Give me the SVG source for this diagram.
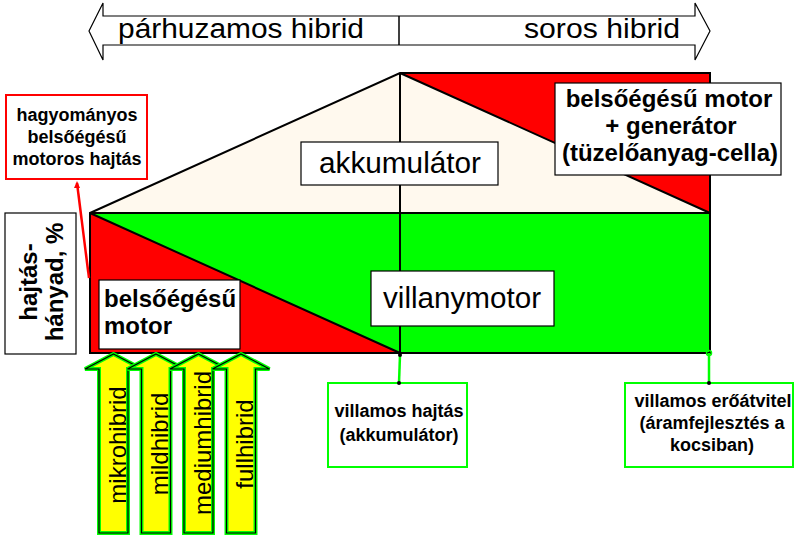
<svg xmlns="http://www.w3.org/2000/svg" width="800" height="540" viewBox="0 0 800 540">
<defs>
<style>
text{font-family:"Liberation Sans",Arial,sans-serif;fill:#000}
.b{font-weight:bold;font-size:18px}
.bb{font-weight:bold;font-size:24px}
.big{font-size:29px}
.lbl{fill:#fff;stroke:#000;stroke-width:1.2}
.edge{fill:none;stroke:#000;stroke-width:2}
.arr{fill:#ffff00;stroke:#00ff00;stroke-width:4;stroke-linejoin:miter}
.arrk{fill:none;stroke:#000;stroke-width:1.2}
.vt{font-size:24px}
</style>
<path id="up" d="M0,0 L28.5,15 L14.5,15 L14.5,179 L-14.5,179 L-14.5,15 L-28.5,15 Z"/>
</defs>
<rect width="800" height="540" fill="#fff"/>

<g id="top-arrow">
<polygon points="89,31 103,3 103,16 695,16 695,3 710,31 695,60 695,45 103,45 103,60" fill="#fff" stroke="#000" stroke-width="1.2"/>
<line x1="399" y1="16" x2="399" y2="45" stroke="#000" stroke-width="1.5"/>
<text x="118" y="38" font-size="27" textLength="246" lengthAdjust="spacingAndGlyphs">párhuzamos hibrid</text>
<text x="524" y="38" font-size="27" textLength="156" lengthAdjust="spacingAndGlyphs">soros hibrid</text>
</g>

<g id="chart">
<polygon points="90,213 400,73 710,213" fill="#fff9ee"/>
<polygon points="400,73 710,73 710,213" fill="#ff0000"/>
<rect x="90" y="213" width="620" height="140" fill="#00ff00"/>
<polygon points="90,213 400,353 90,353" fill="#ff0000"/>
<path class="edge" d="M90,213 L400,73 L710,73 L710,353 L90,353 Z M400,73 L710,213 M90,213 L710,213 M400,73 L400,353 M90,213 L400,353"/>
</g>

<g id="akkumulator">
<rect class="lbl" x="301" y="142" width="197" height="43"/>
<text class="big" x="400" y="173" text-anchor="middle" textLength="162" lengthAdjust="spacingAndGlyphs">akkumulátor</text>
</g>

<g id="villanymotor">
<rect class="lbl" x="371" y="271" width="183" height="55"/>
<text class="big" x="462" y="308" text-anchor="middle" textLength="158" lengthAdjust="spacingAndGlyphs">villanymotor</text>
</g>

<g id="belsoegesu-motor">
<rect class="lbl" x="99" y="280" width="141" height="69"/>
<text class="bb" x="104" y="307">belsőégésű</text>
<text class="bb" x="104" y="334">motor</text>
</g>

<g id="generator">
<rect class="lbl" x="555" y="83" width="226" height="92"/>
<text class="bb" x="669" y="107" text-anchor="middle">belsőégésű motor</text>
<text class="bb" x="671" y="134" text-anchor="middle">+ generátor</text>
<text class="bb" x="670" y="161" text-anchor="middle">(tüzelőanyag-cella)</text>
</g>

<g id="hagyomanyos">
<rect x="6" y="95" width="141" height="84" fill="#fff" stroke="#ff0000" stroke-width="2"/>
<text class="b" x="77" y="121" text-anchor="middle">hagyományos</text>
<text class="b" x="77" y="143" text-anchor="middle">belsőégésű</text>
<text class="b" x="77" y="165" text-anchor="middle">motoros hajtás</text>
</g>

<g id="hajtashanyad">
<rect class="lbl" x="5" y="213" width="71" height="141"/>
<text class="bb" transform="translate(37,282) rotate(-90)" text-anchor="middle">hajtás-</text>
<text class="bb" transform="translate(63,282) rotate(-90)" text-anchor="middle">hányad, %</text>
</g>

<g id="villamos-hajtas">
<rect x="328" y="383" width="139" height="84" fill="#fff" stroke="#00ff00" stroke-width="2"/>
<text class="b" x="399" y="417" text-anchor="middle">villamos hajtás</text>
<text class="b" x="399" y="441" text-anchor="middle">(akkumulátor)</text>
</g>

<g id="villamos-eroatvitel">
<rect x="625" y="383" width="168" height="84" fill="#fff" stroke="#00ff00" stroke-width="2"/>
<text class="b" x="713" y="407" text-anchor="middle">villamos erőátvitel</text>
<text class="b" x="712" y="429" text-anchor="middle">(áramfejlesztés a</text>
<text class="b" x="712" y="451" text-anchor="middle">kocsiban)</text>
</g>

<g id="connectors">
<line x1="77" y1="183" x2="89" y2="278" stroke="#ff0000" stroke-width="2.5"/>
<polygon points="77,181 74,188 80,188" fill="#ff0000"/>
<line x1="400" y1="355" x2="399" y2="383" stroke="#00ff00" stroke-width="2.5"/>
<circle cx="400" cy="355" r="2" fill="#000"/>
<circle cx="399" cy="383" r="2" fill="#000"/>
<line x1="709" y1="353" x2="709" y2="383" stroke="#00ff00" stroke-width="2.5"/>
<circle cx="709" cy="353" r="2.5" fill="none" stroke="#00ff00" stroke-width="1.5"/>
<circle cx="709" cy="383" r="2" fill="#000"/>
</g>

<g id="mikrohibrid">
<use href="#up" x="113.5" y="354" class="arr"/>
<use href="#up" x="113.5" y="354" class="arrk"/>
<text class="vt" transform="translate(126,445) rotate(-90)" text-anchor="middle">mikrohibrid</text>
</g>
<g id="mildhibrid">
<use href="#up" x="156" y="354" class="arr"/>
<use href="#up" x="156" y="354" class="arrk"/>
<text class="vt" transform="translate(168,444) rotate(-90)" text-anchor="middle">mildhibrid</text>
</g>
<g id="mediumhibrid">
<use href="#up" x="198.5" y="354" class="arr"/>
<use href="#up" x="198.5" y="354" class="arrk"/>
<text class="vt" transform="translate(211,443) rotate(-90)" text-anchor="middle">mediumhibrid</text>
</g>
<g id="fullhibrid">
<use href="#up" x="241" y="354" class="arr"/>
<use href="#up" x="241" y="354" class="arrk"/>
<text class="vt" transform="translate(253,444) rotate(-90)" text-anchor="middle">fullhibrid</text>
</g>
</svg>
